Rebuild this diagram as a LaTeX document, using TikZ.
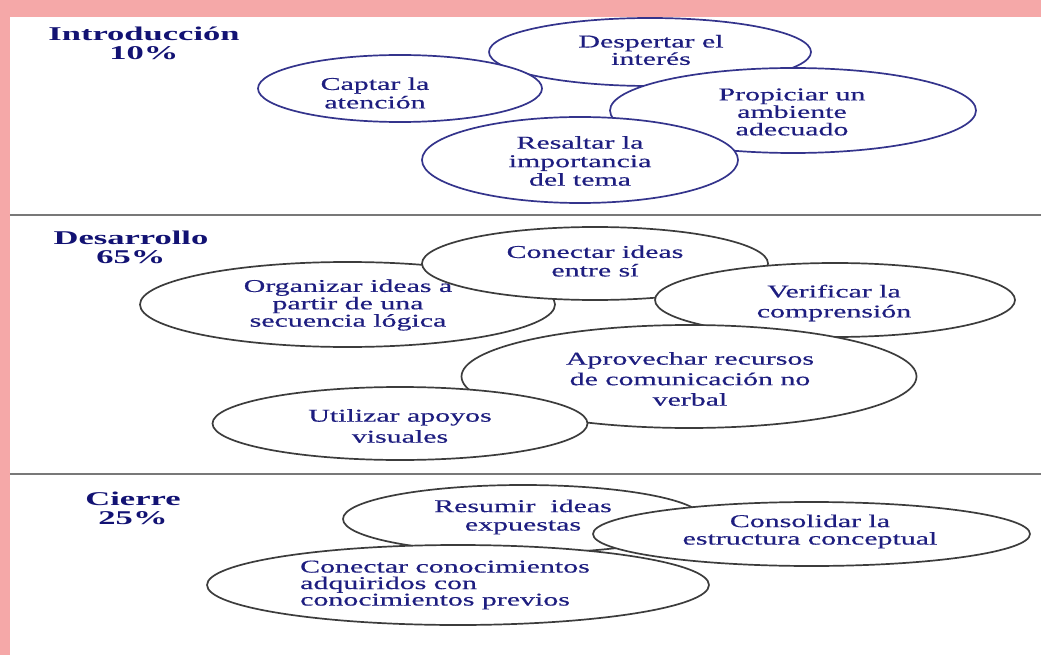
\documentclass[tikz,border=0pt]{standalone}
\usepackage{fontspec}
\setmainfont{Liberation Serif}[FakeStretch=1.66, FakeBold=0.5]
\newfontfamily\titlefont{Liberation Serif}[FakeStretch=1.77]
\usetikzlibrary{shapes.geometric}
\definecolor{framepink}{RGB}{245,168,168}
\definecolor{rulegray}{RGB}{120,120,120}
\definecolor{introblue}{RGB}{52,52,140}
\definecolor{ovalgray}{RGB}{60,60,60}
\definecolor{textnavy}{RGB}{30,30,128}
\definecolor{titlenavy}{RGB}{18,18,115}

\begin{document}
\begin{tikzpicture}[x=1pt, y=-1pt,
	idea/.style={ellipse, draw=ovalgray, line width=1.7pt, fill=white, inner sep=0pt},
	introidea/.style={idea, draw=introblue},
	ideatext/.style={text=textnavy, align=center, inner sep=0pt, font=\fontsize{18}{18.5}\selectfont},
	stagetitle/.style={text=titlenavy, align=center, inner sep=0pt, font=\titlefont\bfseries\fontsize{19.5}{19}\selectfont},
	divider/.style={rulegray, line width=2pt}]
% Frame
\useasboundingbox (0,0) rectangle (1041,655);
\fill[framepink] (0,0) rectangle (1041,655);
\fill[white] (10,17) rectangle (1041,655);
% Dividers between the stages
\draw[divider] (10,215) -- (1041,215);
\draw[divider] (10,474) -- (1041,474);

% Introduccion
\node[stagetitle] (intro) at (144,43) {Introducción\\10\%};
\node[introidea, minimum width=322, minimum height=68] (despertar) at (650,52) {};
\node[ideatext, font=\fontsize{18}{16}\selectfont] (despertar-txt) at (651,50) {Despertar el\\interés};
\node[introidea, minimum width=284, minimum height=67] (captar) at (400,88.5) {};
\node[ideatext] (captar-txt) at (375,93) {Captar la\\atención};
\node[introidea, minimum width=366, minimum height=85] (propiciar) at (793,110.5) {};
\node[ideatext, font=\fontsize{18}{17.5}\selectfont] (propiciar-txt) at (792,112) {Propiciar un\\ambiente\\adecuado};
\node[introidea, minimum width=316, minimum height=86] (resaltar) at (580,160) {};
\node[ideatext] (resaltar-txt) at (580,161) {Resaltar la\\importancia\\del tema};

% Desarrollo
\node[stagetitle] (desarrollo) at (131,247) {Desarrollo\\65\%};
\node[idea, minimum width=415, minimum height=85] (organizar) at (347.5,304.5) {};
\node[ideatext, font=\fontsize{18}{15.5}\selectfont] (organizar-txt) at (348,305) {Organizar ideas a\\partir de una\\secuencia lógica};
\node[idea, minimum width=346, minimum height=73] (conectar) at (595,263.5) {};
\node[ideatext] (conectar-txt) at (595,261) {Conectar ideas\\entre sí};
\node[idea, minimum width=360, minimum height=74] (verificar) at (835,300) {};
\node[ideatext, font=\fontsize{18}{20}\selectfont] (verificar-txt) at (834,303) {Verificar la\\comprensión};
\node[idea, minimum width=455, minimum height=103] (aprovechar) at (689,376.5) {};
\node[ideatext, font=\fontsize{18}{20.5}\selectfont] (aprovechar-txt) at (690,379) {Aprovechar recursos\\de comunicación no\\verbal};
\node[idea, minimum width=375, minimum height=73] (utilizar) at (400,423.5) {};
\node[ideatext, font=\fontsize{18}{21}\selectfont] (utilizar-txt) at (400,426) {Utilizar apoyos\\visuales};

% Cierre
\node[stagetitle] (cierre) at (133,508) {Cierre\\25\%};
\node[idea, minimum width=360, minimum height=68] (resumir) at (523,519) {};
\node[ideatext] (resumir-txt) at (523,517) {Resumir\ \ ideas\\expuestas};
\node[idea, minimum width=437, minimum height=64] (consolidar) at (811.5,534) {};
\node[ideatext, font=\fontsize{18}{17.5}\selectfont] (consolidar-txt) at (810,531.5) {Consolidar la\\estructura conceptual};
\node[idea, minimum width=502, minimum height=80] (conocimientos) at (458,585) {};
\node[ideatext, align=left, anchor=west, font=\fontsize{18}{16.5}\selectfont] (conocimientos-txt) at (300,585) {Conectar conocimientos\\adquiridos con\\conocimientos previos};

\end{tikzpicture}
\end{document}
